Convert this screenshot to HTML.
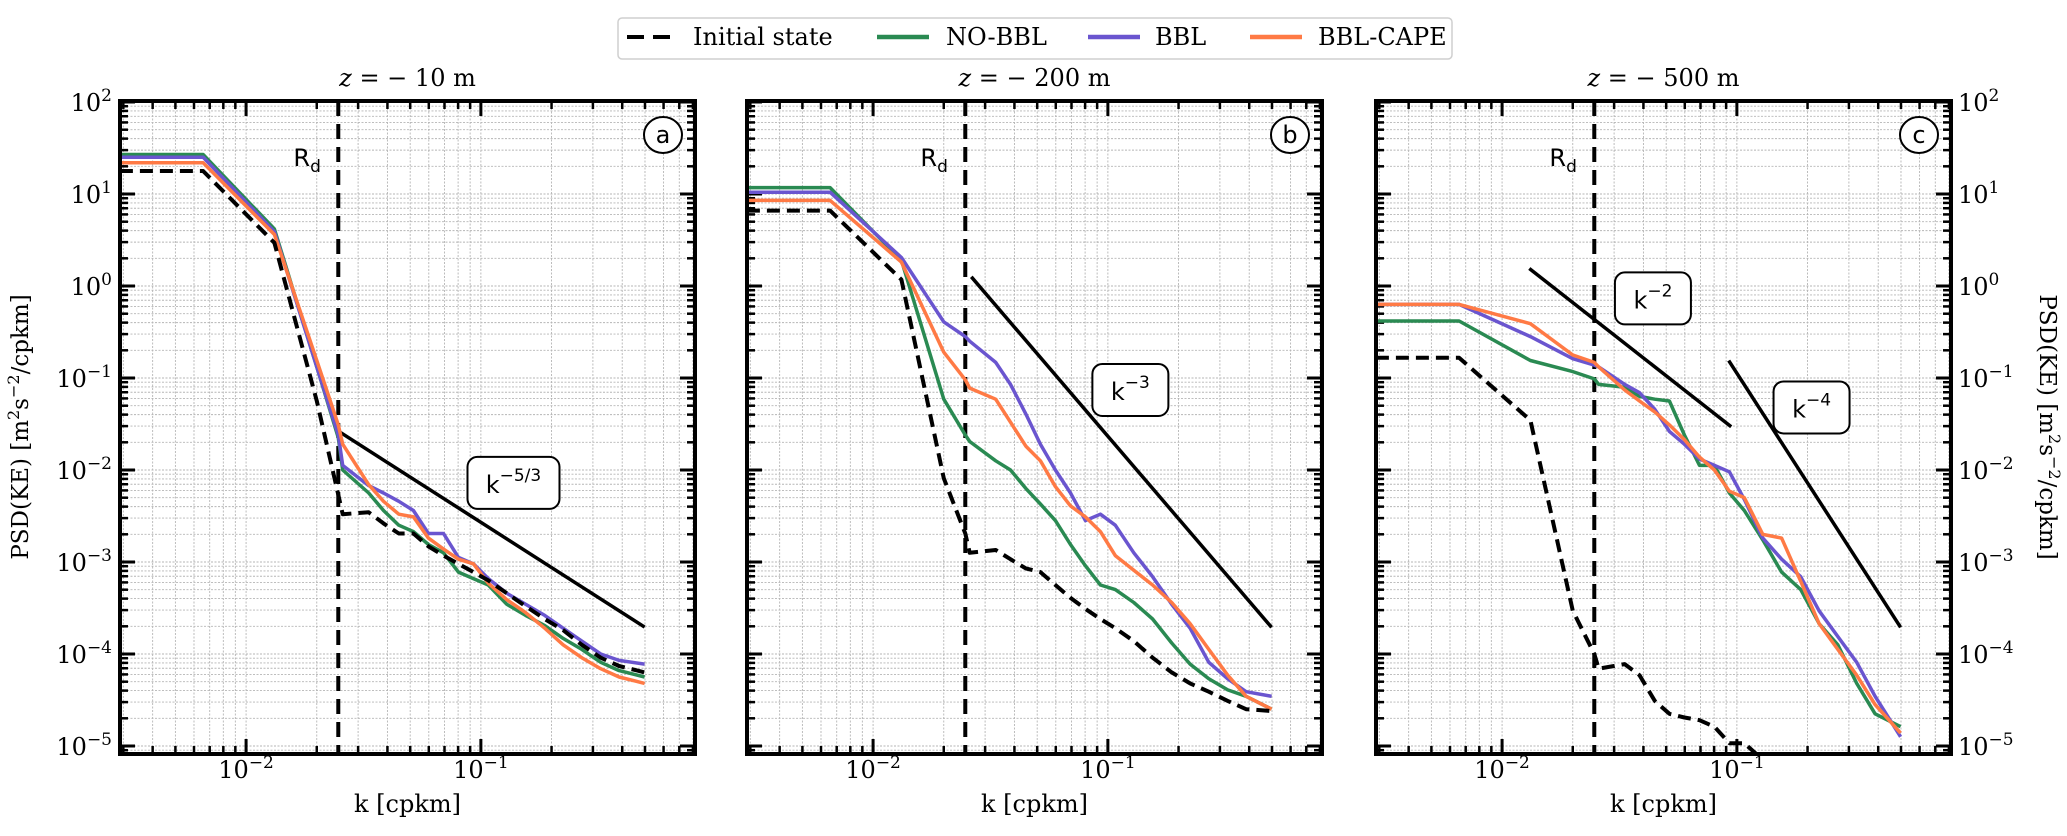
<!DOCTYPE html>
<html><head><meta charset="utf-8">
<style>
html,body{margin:0;padding:0;background:#fff;overflow:hidden;width:2067px;height:836px;}
svg{display:block;}
text{font-family:"DejaVu Serif","Liberation Serif",serif;fill:#000;}
.sans{font-family:"DejaVu Sans","Liberation Sans",sans-serif;}
</style></head>
<body>
<svg id="fig" width="2067" height="836" viewBox="0 0 2067 836" xmlns="http://www.w3.org/2000/svg"></svg>
<script>
// ---------- data (k in cpkm, PSD values as log10) ----------
const kGrid = [0.0029,0.00656,0.0132,0.02,0.0247,0.0258,0.0333,0.0385,0.0447,0.0516,0.0598,0.0693,0.0802,0.0929,0.1076,0.129,0.155,0.187,0.224,0.269,0.324,0.388,0.498];
const panelTitles = ["z = \u2212 10 m","z = \u2212 200 m","z = \u2212 500 m"];
const panelLetters = ["a","b","c"];
const seriesNames = ["Initial state","NO-BBL","BBL","BBL-CAPE"];
const xTickExps = [-2,-1];
const yTickExps = [2,1,0,-1,-2,-3,-4,-5];
const rdK = 0.0247;

const aInit  = [1.25,1.25,0.47,-1.25,-2.27,-2.48,-2.46,-2.58,-2.69,-2.69,-2.83,-2.93,-3.02,-3.11,-3.20,-3.34,-3.48,-3.62,-3.74,-3.90,-4.04,-4.13,-4.20];
const aNoBBL = [1.43,1.43,0.62,-0.88,-1.65,-2.00,-2.25,-2.44,-2.60,-2.67,-2.81,-2.90,-3.11,-3.18,-3.25,-3.46,-3.58,-3.69,-3.83,-3.95,-4.09,-4.18,-4.25];
const aBBL   = [1.40,1.40,0.59,-0.88,-1.62,-1.95,-2.17,-2.25,-2.34,-2.44,-2.69,-2.69,-2.95,-3.02,-3.18,-3.34,-3.46,-3.58,-3.72,-3.86,-4.00,-4.07,-4.11];
const aCAPE  = [1.34,1.34,0.56,-0.81,-1.51,-1.72,-2.16,-2.34,-2.48,-2.51,-2.74,-2.86,-2.97,-3.02,-3.23,-3.41,-3.55,-3.72,-3.90,-4.04,-4.16,-4.25,-4.32];

const bInit  = [0.82,0.82,0.07,-2.09,-2.69,-2.90,-2.87,-2.97,-3.07,-3.11,-3.25,-3.39,-3.51,-3.62,-3.72,-3.86,-4.04,-4.20,-4.32,-4.41,-4.51,-4.60,-4.62];
const bNoBBL = [1.07,1.07,0.28,-1.23,-1.62,-1.69,-1.90,-2.00,-2.20,-2.37,-2.55,-2.81,-3.04,-3.25,-3.30,-3.44,-3.62,-3.88,-4.11,-4.27,-4.39,-4.46,-4.60];
const bBBL   = [1.02,1.02,0.31,-0.39,-0.55,-0.60,-0.83,-1.07,-1.39,-1.72,-2.00,-2.25,-2.55,-2.48,-2.60,-2.90,-3.16,-3.46,-3.72,-4.09,-4.27,-4.41,-4.46];
const bCAPE  = [0.93,0.93,0.26,-0.72,-1.02,-1.11,-1.23,-1.48,-1.74,-1.90,-2.18,-2.39,-2.51,-2.67,-2.93,-3.09,-3.25,-3.44,-3.67,-3.95,-4.23,-4.46,-4.60];

const cInit  = [-0.78,-0.78,-1.46,-3.53,-4.00,-4.16,-4.11,-4.23,-4.51,-4.65,-4.69,-4.72,-4.79,-4.97,-4.97,-5.15,-5.30,-5.50,-5.70,-5.90,-6.10,-6.30,-6.50];
const cNoBBL = [-0.38,-0.38,-0.81,-0.93,-1.01,-1.07,-1.10,-1.20,-1.23,-1.25,-1.62,-1.95,-1.95,-2.25,-2.44,-2.76,-3.11,-3.30,-3.67,-3.90,-4.32,-4.65,-4.79];
const cBBL   = [-0.20,-0.20,-0.55,-0.79,-0.86,-0.88,-1.07,-1.16,-1.34,-1.58,-1.72,-1.88,-1.95,-2.02,-2.32,-2.74,-2.97,-3.16,-3.53,-3.81,-4.09,-4.46,-4.90];
const cCAPE  = [-0.20,-0.20,-0.41,-0.75,-0.83,-0.88,-1.13,-1.25,-1.37,-1.51,-1.67,-1.86,-2.00,-2.23,-2.30,-2.70,-2.74,-3.21,-3.67,-3.95,-4.23,-4.55,-4.86];

// reference slope lines: [k0, log10P0, k1, log10P1]
const aRef = [[0.0247,-1.577,0.498,-3.707]];
const bRef = [[0.0262,0.10,0.498,-3.71]];
const cRef = [[0.01306,0.19,0.0946,-1.53],[0.0923,-0.81,0.498,-3.71]];
// slope label text & position [k, log10P]
const aLabels = [["k","\u22125/3",0.1377,-2.14]];
const bLabels = [["k","\u22123",0.1247,-1.13]];
const cLabels = [["k","\u22122",0.0439,-0.135],["k","\u22124",0.208,-1.32]];

// ---------- layout ----------
const colors = ["#000000","#2a8a52","#6a55cf","#ff7a45"];
const panelX = [120,747,1376];
const PW = 575, TOP = 101, BOT = 754;
const XL0 = -2.537, XL1 = -0.088, YL0 = -5.087, YL1 = 2.011;

const svg = document.getElementById('fig');
const NS = "http://www.w3.org/2000/svg";
function mk(tag, attrs, parent){
  const e = document.createElementNS(NS, tag);
  for (const k in attrs) e.setAttribute(k, attrs[k]);
  (parent||svg).appendChild(e);
  return e;
}
function xs(p, k){ return panelX[p] + (Math.log10(k)-XL0)/(XL1-XL0)*PW; }
function xsl(p, lk){ return panelX[p] + (lk-XL0)/(XL1-XL0)*PW; }
function ys(lp){ return TOP + (YL1-lp)/(YL1-YL0)*(BOT-TOP); }

// legend
const leg = mk('g',{});


const legBox = mk('rect',{x:618,y:18,width:834,height:41,rx:4,fill:'#fff',stroke:'#cfcfcf','stroke-width':1.5},leg);


const legPos = [[627,693],[877,946],[1088,1155],[1250,1318]];
for (let i=0;i<4;i++){
  const g = mk('g',{},leg);
  
  
  const l = mk('line',{x1:legPos[i][0],x2:legPos[i][0]+(i===0?43:52),y1:37,y2:37,stroke:colors[i],'stroke-width':i===0?4:4.5},g);
  if(i===0) l.setAttribute('stroke-dasharray','17 9');
  const t = mk('text',{x:legPos[i][1],y:45,'font-size':24},g);
  t.textContent = seriesNames[i];
}

const datasets = [[aInit,aNoBBL,aBBL,aCAPE],[bInit,bNoBBL,bBBL,bCAPE],[cInit,cNoBBL,cBBL,cCAPE]];
const refs = [aRef,bRef,cRef];
const labels = [aLabels,bLabels,cLabels];
const labelW = [[92],[76],[76,76]];

for (let p=0;p<3;p++){
  const x0 = panelX[p], x1 = x0+PW;
  const pg = mk('g',{});
  
  
  const cp = mk('clipPath',{id:'clip'+p},pg);
  mk('rect',{x:x0,y:TOP,width:PW,height:BOT-TOP},cp);

  // grid
  const grid = mk('g',{stroke:'#b5b5b5','stroke-width':0.9,'stroke-dasharray':'2 1.5'},pg);
  
  
  for (let e=-3;e<=0;e++) for (let m=1;m<10;m++){
    const lk = e+Math.log10(m); if (lk<XL0||lk>XL1) continue;
    const X = xsl(p,lk);
    mk('line',{x1:X,x2:X,y1:TOP,y2:BOT},grid);
  }
  for (let e=-6;e<=2;e++) for (let m=1;m<10;m++){
    const lp = e+Math.log10(m); if (lp<YL0||lp>YL1) continue;
    const Y = ys(lp);
    mk('line',{x1:x0,x2:x1,y1:Y,y2:Y},grid);
  }

  // ticks (inward, all sides)
  const tk = mk('g',{stroke:'#000'},pg);
  
  
  for (let e=-3;e<=0;e++) for (let m=1;m<10;m++){
    const lk = e+Math.log10(m); if (lk<XL0||lk>XL1) continue;
    const X = xsl(p,lk), L = m===1?15:8, w = m===1?3:2.5;
    mk('line',{x1:X,x2:X,y1:BOT,y2:BOT-L,'stroke-width':w},tk);
    mk('line',{x1:X,x2:X,y1:TOP,y2:TOP+L,'stroke-width':w},tk);
  }
  for (let e=-6;e<=2;e++) for (let m=1;m<10;m++){
    const lp = e+Math.log10(m); if (lp<YL0-0.001||lp>YL1) continue;
    const Y = ys(lp), L = m===1?15:8, w = m===1?3:2.5;
    mk('line',{x1:x0,x2:x0+L,y1:Y,y2:Y,'stroke-width':w},tk);
    mk('line',{x1:x1,x2:x1-L,y1:Y,y2:Y,'stroke-width':w},tk);
  }

  // Rd line
  const rd = mk('line',{x1:xs(p,rdK),x2:xs(p,rdK),y1:TOP,y2:BOT,stroke:'#000','stroke-width':4,'stroke-dasharray':'15 8'},pg);
  
  
  const rdt = mk('text',{x:xsl(p,-1.74),y:ys(1.40)+9,'font-size':24,'text-anchor':'middle',class:'sans'},pg);
  
  
  rdt.innerHTML = 'R<tspan font-size="17" dy="6">d</tspan>';

  // reference lines
  for (const r of refs[p]){
    const l = mk('line',{x1:xs(p,r[0]),y1:ys(r[1]),x2:xs(p,r[2]),y2:ys(r[3]),stroke:'#000','stroke-width':3.5},pg);
    
    
  }
  labels[p].forEach((lb,i)=>{
    const cx = xs(p,lb[2]), cy = ys(lb[3]), w = labelW[p][i], h = 52;
    const g = mk('g',{},pg);
    
    
    mk('rect',{x:cx-w/2,y:cy-h/2,width:w,height:h,rx:10,fill:'#fff',stroke:'#000','stroke-width':2},g);
    const t = mk('text',{x:cx,y:cy+10,'font-size':24,'text-anchor':'middle',class:'sans'},g);
    t.innerHTML = lb[0]+'<tspan font-size="17" dy="-12">'+lb[1]+'</tspan>';
  });

  // series
  const sg = mk('g',{'clip-path':'url(#clip'+p+')'},pg);
  
  
  const order = [1,2,3,0];
  for (const s of order){
    const vals = datasets[p][s];
    const pts = kGrid.map((k,i)=>xs(p,k).toFixed(1)+','+ys(vals[i]).toFixed(1)).join(' ');
    const pl = mk('polyline',{points:pts,fill:'none',stroke:colors[s],'stroke-width':s===0?4:3.5,'stroke-linejoin':'round'},sg);
    if (s===0) pl.setAttribute('stroke-dasharray','13 7');
    
    
  }

  // frame
  const fr = mk('rect',{x:x0,y:TOP,width:PW,height:BOT-TOP,fill:'none',stroke:'#000','stroke-width':4},pg);
  
  

  // panel letter
  const lg = mk('g',{},pg);
  
  
  mk('ellipse',{cx:x1-32,cy:TOP+34,rx:19,ry:18,fill:'#fff',stroke:'#000','stroke-width':2},lg);
  const lt = mk('text',{x:x1-32,y:TOP+42,'font-size':24,'text-anchor':'middle',class:'sans'},lg);
  lt.textContent = panelLetters[p];

  // title
  const tt = mk('text',{x:x0+PW/2,y:86,'font-size':24,'text-anchor':'middle'},pg);
  
  
  const parts = panelTitles[p].split(' = ');
  tt.innerHTML = '<tspan font-style="italic">z</tspan> = '+parts[1];

  // x tick labels
  for (const e of xTickExps){
    const t = mk('text',{x:xsl(p,e),y:778,'font-size':24,'text-anchor':'middle'},pg);
    
    
    t.innerHTML = '10<tspan font-size="17" dy="-10">\u2212'+Math.abs(e)+'</tspan>';
  }
  const xl = mk('text',{x:x0+PW/2,y:812,'font-size':24,'text-anchor':'middle'},pg);
  
  
  xl.textContent = 'k [cpkm]';
}

// y tick labels (panel a left, panel c right)
for (const e of yTickExps){
  const sup = e<0 ? '\u2212'+Math.abs(e) : String(e);
  const t1 = mk('text',{x:112,y:ys(e)+9,'font-size':24,'text-anchor':'end'});
  
  
  t1.innerHTML = '10<tspan font-size="17" dy="-10">'+sup+'</tspan>';
  const t2 = mk('text',{x:panelX[2]+PW+7,y:ys(e)+9,'font-size':24,'text-anchor':'start'});
  
  
  t2.innerHTML = '10<tspan font-size="17" dy="-10">'+sup+'</tspan>';
}
const yl = mk('text',{x:0,y:0,'font-size':23,'text-anchor':'middle',transform:'translate(28,427) rotate(-90)'});


yl.innerHTML = 'PSD(KE) [m<tspan font-size="16" dy="-9">2</tspan><tspan dy="9">s</tspan><tspan font-size="16" dy="-9">\u22122</tspan><tspan dy="9">/cpkm]</tspan>';
const yr = mk('text',{x:0,y:0,'font-size':23,'text-anchor':'middle',transform:'translate(2040,427) rotate(90)'});


yr.innerHTML = 'PSD(KE) [m<tspan font-size="16" dy="-9">2</tspan><tspan dy="9">s</tspan><tspan font-size="16" dy="-9">\u22122</tspan><tspan dy="9">/cpkm]</tspan>';
</script>
</body></html>
